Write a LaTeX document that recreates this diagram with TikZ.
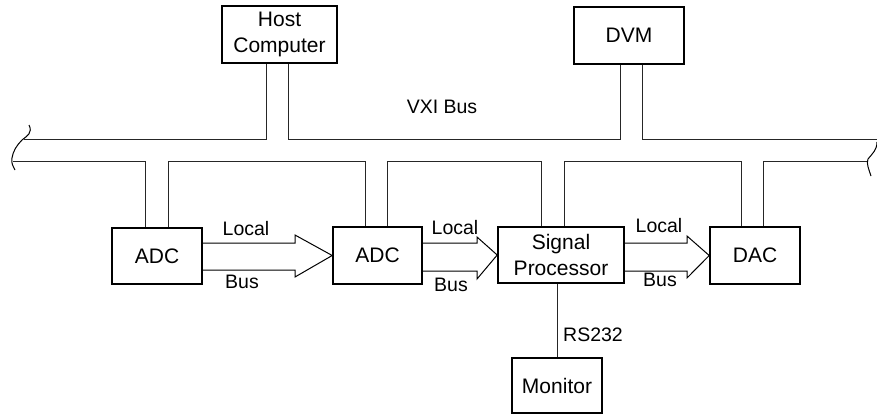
\documentclass[tikz,border=0pt]{standalone}
\usepackage{fontspec}
\setmainfont{Liberation Sans}
\usetikzlibrary{calc}
\begin{document}
\begin{tikzpicture}[x=1pt,y=-1pt,
  blk/.style={draw,line width=1.6pt,inner sep=0pt,align=center,font=\fontsize{21}{26}\selectfont},
  wire/.style={line width=0.9pt,draw=black!85},
  barrow/.style={line width=1pt,line join=miter},
  lbl/.style={font=\fontsize{19.5}{23}\selectfont,inner sep=0pt}]
\useasboundingbox (0,0) rectangle (877,415);
% boxes
\node[blk,minimum width=115pt,minimum height=57pt] (host) at (279.5,34.5) {Host\\Computer};
\node[blk,minimum width=110pt,minimum height=57pt] (dvm) at (629,35.5) {DVM};
\node[blk,minimum width=90pt,minimum height=56pt] (adc1) at (157,256) {ADC};
\node[blk,minimum width=89pt,minimum height=57pt] (adc2) at (377.5,255.5) {ADC};
\node[blk,minimum width=126pt,minimum height=56pt] (sp) at (561,255) {Signal\\Processor};
\node[blk,minimum width=90pt,minimum height=57pt] (dac) at (755,255.5) {DAC};
\node[blk,minimum width=90pt,minimum height=55pt] (mon) at (557,385.5) {Monitor};
% bus end points
\coordinate (ltop) at (24,139);
\coordinate (lbot) at (13,161);
\coordinate (rtop) at (877,139);
\coordinate (rbot) at (868,161);
% top bus line
\draw[wire] (ltop) -- (266,139) -- (266,0 |- host.south);
\draw[wire] (288,0 |- host.south) -- (288,139) -- (620,139) -- (620,0 |- dvm.south);
\draw[wire] (642,0 |- dvm.south) -- (642,139) -- (rtop);
% bottom bus line
\draw[wire] (lbot) -- (145,161) -- (145,0 |- adc1.north);
\draw[wire] (168,0 |- adc1.north) -- (168,161) -- (365,161) -- (365,0 |- adc2.north);
\draw[wire] (387,0 |- adc2.north) -- (387,161) -- (541,161) -- (541,0 |- sp.north);
\draw[wire] (564,0 |- sp.north) -- (564,161) -- (741,161) -- (741,0 |- dac.north);
\draw[wire] (763,0 |- dac.north) -- (763,161) -- (rbot);
% break marks
\draw[line width=1pt] (29,125) .. controls (33,133) and (27,136) .. (22,140)
  .. controls (17,145) and (13,151) .. (12,158) .. controls (11,163) and (13,166) .. (15,170);
\draw[line width=1pt] (877,142) .. controls (877,150) and (872,154) .. (868,159)
  .. controls (866,163) and (869,170) .. (871,176);
% local bus arrows
\draw[barrow] (adc1.east |- 0,243) -- (295,243) -- (295,235) -- (adc2.west)
  -- (295,277) -- (295,270) -- (adc1.east |- 0,270);
\draw[barrow] (adc2.east |- 0,243) -- (477,243) -- (477,237) -- (sp.west)
  -- (477,279) -- (477,271) -- (adc2.east |- 0,271);
\draw[barrow] (sp.east |- 0,243) -- (687,243) -- (687,236) -- (dac.west)
  -- (687,278) -- (687,271) -- (sp.east |- 0,271);
% RS232 link
\draw[wire] (557,0 |- sp.south) -- (mon.north);
% labels
\node[lbl] (vxi) at (442,107) {VXI Bus};
\node[lbl] (rs) at (593,335) {RS232};
\node[lbl] (l1) at (246,229) {Local};
\node[lbl] (b1) at (242,282) {Bus};
\node[lbl] (l2) at (455,228) {Local};
\node[lbl] (b2) at (451,285) {Bus};
\node[lbl] (l3) at (659,226) {Local};
\node[lbl] (b3) at (660,280) {Bus};
\end{tikzpicture}
\end{document}
